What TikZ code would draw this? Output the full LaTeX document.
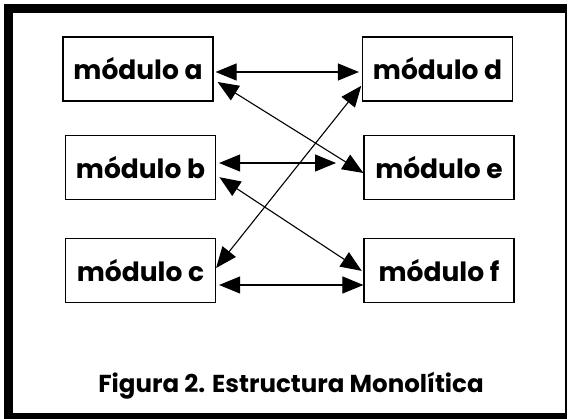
\documentclass[tikz,border=0pt]{standalone}
\usepackage{fontspec}
\setmainfont{Poppins}
\usetikzlibrary{arrows.meta}

\tikzset{
  modulo/.style={draw, line width=1.2pt, minimum width=150pt, minimum height=64pt,
    inner sep=0pt, font=\bfseries\fontsize{26.5}{30}\selectfont},
  flecha/.style={line width=1.1pt, <->}
}

\begin{document}
\begin{tikzpicture}[x=1pt, y=-1pt, >={Triangle[length=21pt, width=17pt]}]
  \useasboundingbox (0,0) rectangle (569,419);
  % marco
  \fill [black] (4,4) rectangle (567,419);
  \fill [white] (13,13) rectangle (565,413);
  % modulos
  \node [modulo] (a) at (138,69) {módulo a};
  \node [modulo] (b) at (140.5,167.5) {módulo b};
  \node [modulo] (c) at (140.5,270.5) {módulo c};
  \node [modulo] (d) at (437.5,69) {módulo d};
  \node [modulo] (e) at (439,167.5) {módulo e};
  \node [modulo] (f) at (439,270.5) {módulo f};
  \coordinate (e0) at (336,163);
  % flechas
  \draw [flecha, shorten <=2pt, shorten >=3pt] ([yshift=-3pt]a.east) -- ([yshift=-3pt]d.west);
  \draw [flecha] ([xshift=4pt, yshift=-13pt]a.east) -- ([yshift=-5.5pt]e.west);
  \draw [flecha, shorten <=3pt] ([yshift=4.5pt]b.east) -- (e0);
  \draw [flecha, shorten <=4pt, shorten >=2pt] ([yshift=-7.5pt]b.east) -- ([yshift=-1.5pt]f.west);
  \draw [flecha, shorten >=1pt] ([yshift=2.5pt]c.east) -- ([yshift=-16pt]d.west);
  \draw [flecha, shorten <=3pt] ([yshift=-14.5pt]c.east) -- ([yshift=-14.5pt]f.west);
  % pie
  \node [font=\bfseries\fontsize{24.5}{28}\selectfont] (pie) at (291,386) {Figura 2. Estructura Monolítica};
\end{tikzpicture}
\end{document}
